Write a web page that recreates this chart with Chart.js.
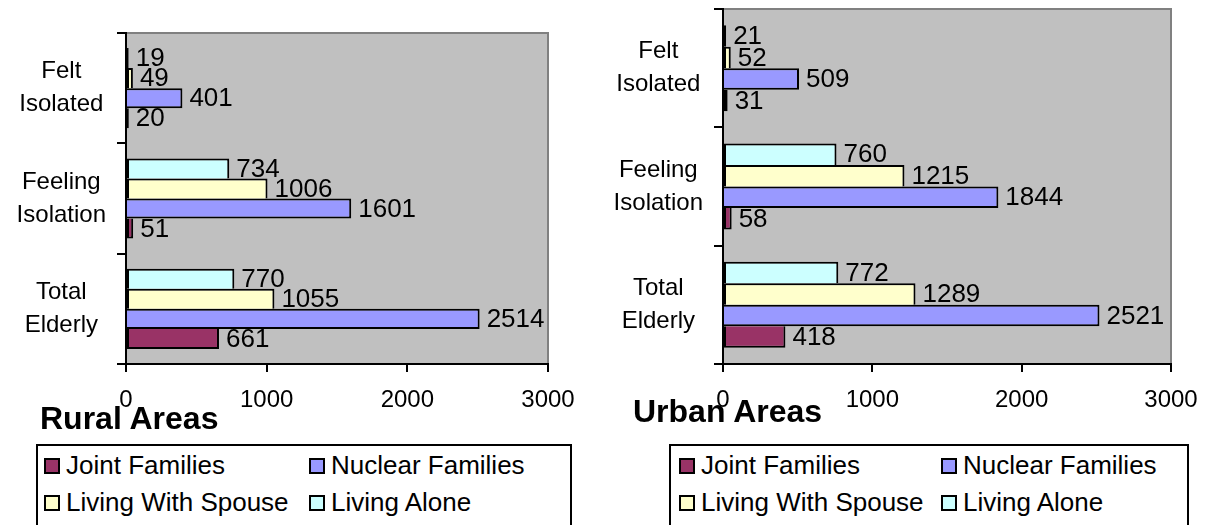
<!DOCTYPE html>
<html>
<head>
<meta charset="utf-8">
<script src="https://cdn.jsdelivr.net/npm/chart.js@4.4.1/dist/chart.umd.min.js"></script>
<style>
  html, body { margin: 0; padding: 0; background: #fff; }
  body { width: 1212px; height: 525px; overflow: hidden; position: relative;
         font-family: 'Liberation Sans', Arial, sans-serif; color: #000; }
  canvas { position: absolute; top: 0; }
  .title { position: absolute; font-weight: bold; font-size: 32px; line-height: 32px; white-space: nowrap; }
  .legend { position: absolute; border: 2px solid #000; background: #fff; box-sizing: border-box;
            display: grid; grid-template-columns: 265px 265px; align-content: start; }
  .item { display: flex; align-items: center; height: 37px; font-size: 26px; white-space: nowrap; }
  .sw { width: 16px; height: 16px; border: 2px solid #000; box-sizing: border-box; margin-right: 6px; flex: none; }
</style>
</head>
<body>
<canvas id="rural" width="600" height="440" style="left:0"></canvas>
<canvas id="urban" width="612" height="440" style="left:600px"></canvas>
<div class="title" id="ruralTitle" style="left:40px;top:402px">Rural Areas</div>
<div class="title" id="urbanTitle" style="left:633px;top:395px">Urban Areas</div>
<div class="legend" id="ruralLegend" style="left:36px;top:444px;width:536px;height:110px;padding:1px 0 0 6px"></div>
<div class="legend" id="urbanLegend" style="left:669px;top:444px;width:520px;height:110px;padding:1px 0 0 8px;grid-template-columns:262px 258px"></div>
<script>
// ---- data ----
const categories = [["Felt", "Isolated"], ["Feeling", "Isolation"], ["Total", "Elderly"]];
const seriesNames = ["Joint Families", "Nuclear Families", "Living With Spouse", "Living Alone"];
const seriesColors = ["#993366", "#9999FF", "#FFFFCC", "#CCFFFF"];
const xTicks = [0, 1000, 2000, 3000];

const ruralJoint   = [20, 51, 661];
const ruralNuclear = [401, 1601, 2514];
const ruralSpouse  = [49, 1006, 1055];
const ruralAlone   = [19, 734, 770];

const urbanJoint   = [31, 58, 418];
const urbanNuclear = [509, 1844, 2521];
const urbanSpouse  = [52, 1215, 1289];
const urbanAlone   = [21, 760, 772];

const FONT = "'Liberation Sans', Arial, sans-serif";

const plotFrame = {
  id: 'plotFrame',
  beforeDraw(chart) {
    const { ctx, chartArea: a } = chart;
    ctx.save();
    ctx.fillStyle = '#C0C0C0';
    ctx.fillRect(a.left, a.top, a.right - a.left, a.bottom - a.top);
    ctx.strokeStyle = '#808080';
    ctx.lineWidth = 2;
    ctx.beginPath();
    ctx.moveTo(a.left, a.top);
    ctx.lineTo(a.right, a.top);
    ctx.lineTo(a.right, a.bottom);
    ctx.stroke();
    ctx.restore();
  }
};

const valueLabels = {
  id: 'valueLabels',
  afterDatasetsDraw(chart) {
    const ctx = chart.ctx;
    ctx.save();
    ctx.font = '26px ' + FONT;
    ctx.fillStyle = '#000';
    ctx.textAlign = 'left';
    ctx.textBaseline = 'middle';
    chart.data.datasets.forEach((ds, di) => {
      chart.getDatasetMeta(di).data.forEach((bar, i) => {
        ctx.fillText(String(ds.data[i]), bar.x + 7, bar.y + 1);
      });
    });
    ctx.restore();
  }
};

function makeChart(id, joint, nuclear, spouse, alone, g) {
  const series = [joint, nuclear, spouse, alone];
  const skips = ['top', 'start', 'bottom', 'bottom'];
  // top-to-bottom inside each category: Living Alone, Spouse, Nuclear, Joint
  const datasets = [3, 2, 1, 0].map(k => ({
    label: seriesNames[k],
    data: series[k],
    backgroundColor: seriesColors[k],
    borderColor: '#000',
    borderWidth: 2,
    borderSkipped: skips[k]
  }));
  return new Chart(document.getElementById(id), {
    type: 'bar',
    data: { labels: categories, datasets },
    plugins: [plotFrame, valueLabels],
    options: {
      indexAxis: 'y',
      responsive: false,
      animation: false,
      devicePixelRatio: 1,
      layout: { padding: { top: g.top, right: g.right, left: 0, bottom: 0 } },
      plugins: { legend: { display: false }, tooltip: { enabled: false }, title: { display: false } },
      datasets: { bar: { categoryPercentage: 0.727, barPercentage: 1 } },
      scales: {
        x: {
          min: xTicks[0], max: xTicks[xTicks.length - 1],
          afterBuildTicks(s) { s.ticks = xTicks.map(v => ({ value: v })); },
          ticks: { color: '#000', font: { size: 24, family: FONT }, padding: 14, maxRotation: 0,
                   callback: v => String(v) },
          grid: { drawOnChartArea: false, drawTicks: true, tickLength: 8, color: '#000', lineWidth: 2 },
          border: { display: true, color: '#000', width: 2 },
          afterFit(s) { s.height = g.xh; }
        },
        y: {
          ticks: { color: '#000', font: { size: 24, family: FONT, lineHeight: 1.38 }, crossAlign: 'center', padding: 11 },
          grid: { drawOnChartArea: false, drawTicks: true, tickLength: 9, color: '#000', lineWidth: 2, offset: true },
          border: { display: true, color: '#000', width: 2 },
          afterFit(s) { s.width = g.yw; s.paddingTop = 0; s.paddingBottom = 0; }
        }
      }
    }
  });
}

function buildLegend(chart, elId) {
  const el = document.getElementById(elId);
  const ds = chart.data.datasets.slice().reverse();
  ds.forEach(d => {
    const item = document.createElement('div');
    item.className = 'item';
    const sw = document.createElement('span');
    sw.className = 'sw';
    sw.style.background = d.backgroundColor;
    item.appendChild(sw);
    item.appendChild(document.createTextNode(d.label));
    el.appendChild(item);
  });
}

const ruralChart = makeChart('rural', ruralJoint, ruralNuclear, ruralSpouse, ruralAlone,
  { top: 33, right: 52, yw: 126, xh: 76 });
const urbanChart = makeChart('urban', urbanJoint, urbanNuclear, urbanSpouse, urbanAlone,
  { top: 9, right: 41, yw: 123, xh: 76 });
buildLegend(ruralChart, 'ruralLegend');
buildLegend(urbanChart, 'urbanLegend');
</script>
</body>
</html>
